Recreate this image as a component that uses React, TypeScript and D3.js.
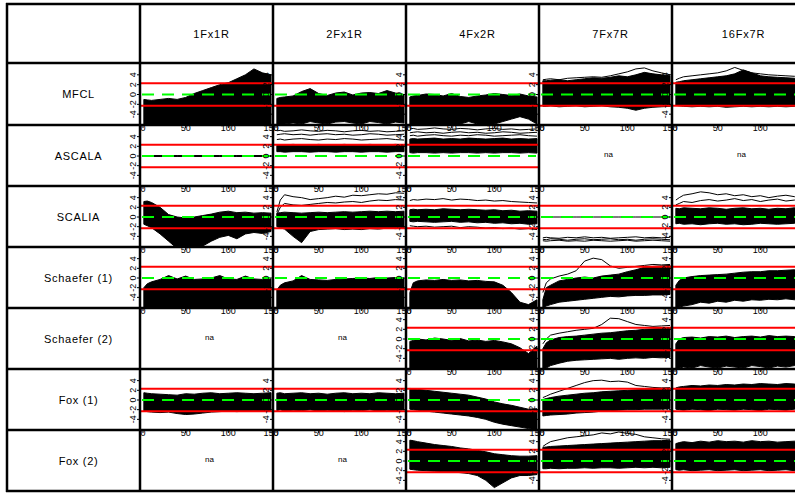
import React from "react";
import * as d3 from "d3";

// ---------- categories & ticks ----------
const MODELS = ["MFCL", "ASCALA", "SCALIA", "Schaefer (1)", "Schaefer (2)", "Fox (1)", "Fox (2)"];
const SCENARIOS = ["1Fx1R", "2Fx1R", "4Fx2R", "7Fx7R", "16Fx7R"];
const STEPS = [1, 5, 10, 20, 30, 40, 50, 60, 70, 80, 90, 100, 110, 120, 130, 140, 150];
const Y_TICKS = [-4, -2, 0, 2, 4];
const X_TICKS = [0, 50, 100, 150];
const REF_LIMIT = 2.3; // red reference lines at +/- log(10)
const REF_CENTER = 0; // green dashed line

// ---------- envelopes (upper / lower) of the trajectories, per model, per scenario (null = na) ----------
const MFCL_UPPER = [
  [-1.0, -1.1, -1.2, -1.0, -0.8, -1.0, -0.6, 0.2, 0.8, 1.4, 2.0, 2.4, 3.2, 4.0, 5.2, 4.4, 4.0],
  [-0.8, -0.6, -0.5, -0.3, 0.6, 1.2, 0.2, -0.2, 0.3, 0.5, -0.1, 0.3, 0.4, 0.2, 0.8, 0.3, 0.0],
  [-0.5, -0.3, -0.2, 0.1, 0.0, -0.3, 0.2, -0.4, -0.6, -0.3, -0.1, 0.2, 0.0, -0.2, 0.1, -0.3, -0.5],
  [2.8, 2.8, 2.9, 3.0, 2.8, 3.0, 3.2, 3.4, 3.3, 3.5, 3.8, 3.6, 4.0, 4.5, 4.2, 4.0, 3.8],
  [2.5, 2.6, 2.8, 3.0, 3.2, 3.4, 3.6, 3.8, 4.2, 5.0, 4.4, 3.8, 3.6, 3.5, 3.4, 3.3, 3.2],
];
const MFCL_LOWER = [
  [-7, -7, -7, -7, -7, -7, -7, -7, -7, -7, -7, -7, -6.5, -6, -6, -6, -6],
  [-7, -6.5, -6, -5.8, -6, -5.5, -5.8, -6, -5.6, -5.5, -5.8, -6, -5.5, -5.7, -6, -5.6, -5.8],
  [-7, -7, -7, -6.5, -6, -6.5, -7, -6, -5.5, -6, -6.5, -6, -5.5, -5, -4.5, -5, -6],
  [-2.4, -2.4, -2.3, -2.5, -2.4, -2.3, -2.5, -2.4, -2.3, -2.5, -2.6, -2.8, -3.2, -2.8, -2.6, -2.5, -2.4],
  [-2.2, -2.3, -2.4, -2.5, -2.4, -2.5, -2.4, -2.6, -2.5, -2.4, -2.5, -2.4, -2.5, -2.4, -2.5, -2.4, -2.5],
];
const MFCL_LINES = [
  [],
  [],
  [],
  [[3.0, 3.1, 3.2, 3.0, 3.3, 3.4, 3.5, 3.6, 3.5, 3.8, 4.2, 4.6, 5.2, 5.4, 4.8, 4.4, 4.0]],
  [[3.0, 3.3, 3.6, 3.8, 4.0, 4.2, 4.4, 4.8, 5.5, 4.9, 4.4, 4.2, 4.0, 3.9, 3.8, 3.7, 3.6]],
];

const ASCALA_UPPER = [
  [0.1, 0.1, 0.1, 0.1, 0.1, 0.1, 0.1, 0.1, 0.1, 0.1, 0.1, 0.1, 0.1, 0.1, 0.1, 0.1, 0.1],
  [2.2, 2.3, 2.3, 2.4, 2.3, 2.3, 2.4, 2.3, 2.3, 2.4, 2.3, 2.3, 2.4, 2.3, 2.3, 2.4, 2.3],
  [3.5, 3.6, 3.5, 3.6, 3.7, 3.5, 3.6, 3.5, 3.7, 3.6, 3.5, 3.6, 3.7, 3.5, 3.6, 3.5, 3.6],
  null,
  null,
];
const ASCALA_LOWER = [
  [-0.1, -0.1, -0.1, -0.1, -0.1, -0.1, -0.1, -0.1, -0.1, -0.1, -0.1, -0.1, -0.1, -0.1, -0.1, -0.1, -0.1],
  [0.9, 0.9, 0.8, 0.9, 0.9, 0.8, 0.9, 0.9, 0.8, 0.9, 0.9, 0.8, 0.9, 0.9, 0.8, 0.9, 0.9],
  [0.7, 0.6, 0.7, 0.7, 0.6, 0.7, 0.6, 0.7, 0.7, 0.6, 0.7, 0.6, 0.7, 0.7, 0.6, 0.7, 0.6],
  null,
  null,
];
const ASCALA_LINES = [
  [],
  [
    [5.2, 5.3, 5.1, 5.2, 5.4, 5.2, 5.1, 5.3, 5.2, 5.0, 5.2, 5.3, 5.1, 5.2, 5.0, 5.1, 5.2],
    [4.4, 4.5, 4.6, 4.4, 4.5, 4.3, 4.5, 4.6, 4.4, 4.5, 4.3, 4.4, 4.6, 4.5, 4.3, 4.4, 4.5],
    [3.4, 3.5, 3.3, 3.5, 3.6, 3.4, 3.3, 3.5, 3.4, 3.6, 3.5, 3.3, 3.4, 3.5, 3.6, 3.4, 3.3],
  ],
  [
    [5.6, 5.7, 5.5, 5.6, 5.8, 5.6, 5.5, 5.7, 5.6, 5.4, 5.6, 5.7, 5.5, 5.6, 5.4, 5.5, 5.6],
    [4.8, 4.9, 5.0, 4.8, 4.9, 4.7, 4.9, 5.0, 4.8, 4.9, 4.7, 4.8, 5.0, 4.9, 4.7, 4.8, 4.9],
    [4.2, 4.3, 4.1, 4.3, 4.4, 4.2, 4.1, 4.3, 4.2, 4.4, 4.3, 4.1, 4.2, 4.3, 4.4, 4.2, 4.1],
  ],
  [],
  [],
];

const SCALIA_UPPER = [
  [3.2, 3.3, 3.0, 2.0, 0.5, 0.0, -0.2, 0.0, 0.3, 0.6, 1.0, 1.2, 0.9, 1.0, 0.8, 0.9, 0.8],
  [0.8, 0.9, 1.0, 0.9, 0.8, 0.9, 1.0, 0.9, 1.0, 1.1, 1.0, 1.1, 1.2, 1.1, 1.2, 1.1, 1.2],
  [1.5, 1.6, 1.5, 1.6, 1.5, 1.7, 1.6, 1.5, 1.6, 1.5, 1.4, 1.5, 1.3, 1.4, 1.2, 1.3, 1.2],
  null,
  [1.8, 1.7, 1.9, 1.8, 1.7, 1.9, 1.8, 1.6, 1.8, 1.9, 1.7, 1.8, 1.6, 1.8, 1.7, 1.9, 1.8],
];
const SCALIA_LOWER = [
  [-1.5, -1.8, -2.2, -3.5, -5.0, -6.5, -6.5, -6.5, -6.0, -5.0, -4.2, -3.8, -4.5, -3.5, -3.2, -3.4, -3.0],
  [-2.0, -2.2, -2.5, -4.0, -5.3, -3.0, -2.6, -2.5, -2.4, -2.6, -2.5, -2.6, -2.4, -2.5, -2.3, -2.4, -2.3],
  [-0.9, -1.0, -0.9, -1.0, -1.1, -1.0, -0.9, -1.1, -1.0, -1.2, -1.1, -1.3, -1.2, -1.4, -1.3, -1.5, -1.4],
  null,
  [-1.4, -1.3, -1.5, -1.4, -1.6, -1.4, -1.3, -1.5, -1.4, -1.6, -1.5, -1.3, -1.4, -1.5, -1.4, -1.3, -1.5],
];
const SCALIA_LINES = [
  [],
  [
    [1.0, 3.5, 4.6, 4.2, 4.0, 3.6, 3.8, 4.0, 4.3, 4.1, 4.5, 4.4, 4.6, 4.8, 4.7, 5.0, 4.9],
    [0.5, 2.0, 2.8, 2.5, 2.4, 2.6, 2.8, 3.0, 2.9, 3.1, 3.2, 3.0, 3.3, 3.5, 3.4, 3.6, 3.5],
  ],
  [
    [3.4, 3.6, 3.5, 3.7, 3.6, 3.8, 3.5, 3.7, 3.6, 3.4, 3.5, 3.3, 3.4, 3.2, 3.1, 3.0, 2.9],
    [-1.8, -1.9, -2.0, -1.9, -2.1, -2.0, -1.9, -2.2, -2.0, -2.1, -2.3, -2.2, -2.4, -2.3, -2.5, -2.4, -2.6],
  ],
  [
    [0, 0, 0, 0, 0, 0, 0, 0, 0, 0, 0, 0, 0, 0, 0, 0, 0],
    [-4.3, -4.2, -4.3, -4.4, -4.2, -4.3, -4.1, -4.3, -4.2, -4.4, -4.3, -4.2, -4.1, -4.3, -4.2, -4.3, -4.2],
    [-4.6, -4.7, -4.5, -4.6, -4.8, -4.6, -4.5, -4.7, -4.6, -4.5, -4.7, -4.6, -4.8, -4.6, -4.5, -4.6, -4.7],
    [-4.9, -5.0, -4.9, -4.8, -5.0, -4.9, -5.0, -4.8, -4.9, -5.0, -4.9, -4.8, -5.0, -4.9, -4.8, -4.9, -5.0],
  ],
  [
    [3.5, 4.0, 4.5, 4.8, 5.2, 5.0, 4.6, 4.8, 4.4, 4.6, 4.2, 4.4, 4.0, 4.3, 4.5, 4.2, 4.4],
    [2.5, 2.8, 3.2, 3.0, 3.4, 3.6, 3.3, 3.5, 3.8, 3.4, 3.6, 3.2, 3.5, 3.7, 3.3, 3.5, 3.6],
  ],
];

const SCHAEFER1_UPPER = [
  [-2.0, -1.2, -0.8, -0.3, 0.5, -0.2, 0.4, -0.3, -0.2, 0.0, 0.5, -0.2, -0.3, 0.4, -0.2, -0.3, -0.2],
  [-2.5, -1.5, -1.0, -0.6, 0.5, -0.3, -0.4, -0.5, -0.3, -0.2, -0.1, 0.0, -0.1, 0.1, 0.0, 0.1, 0.0],
  [-3.0, -1.0, -0.6, -0.4, -0.5, -0.3, -0.5, -0.4, -0.6, -0.5, -0.7, -0.8, -1.5, -3.0, -5.0, -5.5, -4.5],
  [-4.5, -2.0, -1.5, -0.6, -0.3, 0.0, 0.2, 0.0, 0.4, 0.6, 0.8, 1.3, 1.7, 2.2, 2.4, 2.5, 2.6],
  [-1.5, -0.5, 0.0, 0.3, 0.5, 0.6, 0.7, 0.8, 1.0, 1.2, 1.3, 1.3, 1.5, 1.5, 1.6, 1.7, 1.7],
];
const SCHAEFER1_LOWER = [
  [-7, -7, -7, -7, -7, -7, -7, -7, -7, -7, -7, -7, -7, -7, -7, -7, -7],
  [-7, -7, -7, -7, -7, -7, -7, -7, -7, -7, -7, -7, -7, -7, -7, -7, -7],
  [-7, -7, -7, -7, -7, -7, -7, -7, -7, -7, -7, -7, -7, -7, -7, -7, -7],
  [-6.5, -5.8, -5.5, -5.0, -4.8, -4.6, -4.4, -4.2, -4.0, -3.8, -3.9, -3.7, -3.6, -3.6, -3.5, -3.5, -3.4],
  [-6.5, -6, -5.8, -5.5, -5.0, -5.2, -4.8, -5.0, -4.6, -4.8, -4.5, -4.6, -4.4, -4.5, -4.3, -4.5, -4.4],
];
const SCHAEFER1_LINES = [
  [],
  [],
  [],
  [[-3.0, -1.0, -0.2, 0.4, 0.8, 1.5, 3.5, 4.1, 3.8, 2.5, 2.0, 2.2, 2.4, 2.6, 2.8, 2.7, 2.8]],
  [],
];

const SCHAEFER2_UPPER = [
  null,
  null,
  [-0.5, -0.3, 0.0, -0.2, 0.2, 0.0, -0.3, 0.1, -0.4, -0.2, -0.5, -0.3, -0.6, -1.0, -1.8, -3.0, -1.5],
  [-2.0, -0.8, -0.2, 0.3, 0.5, 0.6, 0.8, 1.0, 1.2, 1.3, 1.5, 1.7, 1.8, 2.0, 2.1, 2.2, 2.3],
  [-1.0, 0.0, 0.3, 0.4, 0.2, 0.5, 0.4, 0.6, 0.3, 0.5, 0.6, 0.4, 0.7, 0.5, 0.6, 0.5, 0.6],
];
const SCHAEFER2_LOWER = [
  null,
  null,
  [-7, -7, -7, -7, -7, -7, -7, -7, -7, -7, -7, -7, -7, -7, -7, -7, -7],
  [-6.5, -6, -5.5, -5, -4.6, -4.4, -4.3, -4.2, -4.1, -4.0, -4.2, -4.0, -3.9, -4.0, -3.8, -3.9, -3.8],
  [-6.5, -6, -5.8, -6, -5.5, -5.8, -6, -5.6, -5.8, -6, -5.5, -5.7, -6, -5.6, -5.8, -5.5, -5.7],
];
const SCHAEFER2_LINES = [
  [],
  [],
  [],
  [[-1.0, 0.0, 0.8, 1.2, 1.5, 1.8, 2.0, 2.2, 3.0, 4.3, 4.2, 3.6, 3.0, 2.8, 2.6, 2.7, 2.8]],
  [],
];

const FOX1_UPPER = [
  [1.5, 1.4, 1.3, 1.2, 1.1, 1.0, 1.3, 1.2, 1.4, 1.5, 1.3, 1.4, 1.5, 1.4, 1.3, 1.4, 1.5],
  [1.4, 1.5, 1.3, 1.4, 1.5, 1.3, 1.4, 1.2, 1.4, 1.5, 1.3, 1.4, 1.3, 1.5, 1.4, 1.3, 1.4],
  [2.4, 2.3, 2.2, 2.0, 1.8, 1.6, 1.4, 1.2, 1.0, 0.6, 0.2, -0.4, -0.8, -1.1, -1.5, -1.9, -1.8],
  [0.1, 0.3, 0.5, 0.8, 1.0, 1.2, 1.4, 1.5, 1.7, 1.8, 1.9, 2.0, 2.1, 2.2, 2.3, 2.4, 2.5],
  [2.5, 2.7, 2.8, 3.0, 2.9, 3.1, 3.0, 3.2, 3.1, 3.3, 3.2, 3.4, 3.3, 3.2, 3.4, 3.3, 3.4],
];
const FOX1_LOWER = [
  [-2.3, -2.4, -2.5, -2.6, -2.5, -2.8, -3.0, -2.9, -2.7, -2.5, -2.4, -2.3, -2.4, -2.3, -2.2, -2.3, -2.2],
  [-2.2, -2.0, -2.3, -2.1, -2.2, -2.0, -2.3, -2.1, -2.2, -2.4, -2.1, -2.2, -2.0, -2.3, -2.1, -2.2, -2.0],
  [-1.9, -2.0, -2.1, -2.3, -2.5, -2.7, -2.9, -3.1, -3.3, -3.6, -4.0, -4.6, -5.0, -5.3, -5.6, -5.9, -6.2],
  [-3.3, -3.2, -3.1, -3.0, -2.9, -2.7, -2.6, -2.5, -2.3, -2.2, -2.1, -2.0, -2.0, -1.9, -1.9, -1.9, -1.8],
  [-1.9, -2.0, -2.1, -1.9, -2.0, -2.2, -1.9, -2.0, -2.1, -1.9, -2.0, -2.2, -1.9, -2.0, -2.1, -1.9, -2.0],
];
const FOX1_LINES = [
  [],
  [],
  [],
  [[0.5, 0.8, 1.2, 1.8, 2.4, 3.0, 3.6, 4.0, 4.1, 3.8, 3.9, 3.7, 3.0, 2.8, 2.6, 2.5, 2.5]],
  [],
];

const FOX2_UPPER = [
  null,
  null,
  [4.3, 4.2, 4.0, 3.7, 3.4, 3.2, 3.0, 2.7, 2.5, 2.2, 1.9, 1.5, 1.3, 1.1, 1.0, 1.0, 1.1],
  [2.8, 2.9, 3.0, 3.1, 3.2, 3.3, 3.4, 3.5, 3.6, 3.7, 3.8, 3.9, 4.0, 4.1, 4.2, 4.2, 4.3],
  [3.6, 3.8, 4.0, 3.8, 4.1, 3.9, 4.2, 4.0, 4.1, 3.9, 4.2, 4.0, 4.1, 3.9, 4.0, 4.1, 4.0],
];
const FOX2_LOWER = [
  null,
  null,
  [-1.7, -1.8, -1.9, -2.0, -2.1, -2.2, -2.3, -2.4, -2.6, -3.0, -4.0, -5.5, -4.5, -3.5, -3.0, -3.0, -2.8],
  [-1.6, -1.6, -1.5, -1.6, -1.5, -1.5, -1.4, -1.5, -1.4, -1.4, -1.5, -1.4, -1.3, -1.4, -1.3, -1.4, -1.3],
  [-1.8, -1.9, -1.8, -2.0, -1.9, -1.8, -2.0, -1.9, -1.8, -2.0, -1.9, -1.8, -2.0, -1.9, -1.8, -2.0, -1.9],
];
const FOX2_LINES = [
  [],
  [],
  [],
  [[3.0, 3.5, 4.0, 4.4, 4.8, 5.0, 5.2, 5.4, 5.8, 5.6, 6.0, 5.7, 5.5, 5.0, 4.8, 4.6, 4.5]],
  [],
];

// which panels exist (false = "na")
const AVAILABLE = [
  [true, true, true, true, true],
  [true, true, true, false, false],
  [true, true, true, true, true],
  [true, true, true, true, true],
  [false, false, true, true, true],
  [true, true, true, true, true],
  [false, false, true, true, true],
];

const UPPER = [MFCL_UPPER, ASCALA_UPPER, SCALIA_UPPER, SCHAEFER1_UPPER, SCHAEFER2_UPPER, FOX1_UPPER, FOX2_UPPER];
const LOWER = [MFCL_LOWER, ASCALA_LOWER, SCALIA_LOWER, SCHAEFER1_LOWER, SCHAEFER2_LOWER, FOX1_LOWER, FOX2_LOWER];
const LINES = [MFCL_LINES, ASCALA_LINES, SCALIA_LINES, SCHAEFER1_LINES, SCHAEFER2_LINES, FOX1_LINES, FOX2_LINES];

// ---------- layout ----------
const W = 795;
const H = 495;
const COL_EDGES = [7, 140, 273, 406, 539, 672, 805];
const ROW_EDGES = [4, 63, 125, 186, 247, 308, 369, 430, 491];
const FONT = "'Liberation Sans', Arial, Helvetica, sans-serif";

export default function App() {
  const panels: React.ReactNode[] = [];
  const axes: React.ReactNode[] = [];
  const texts: React.ReactNode[] = [];
  const defs: React.ReactNode[] = [];

  MODELS.forEach((model, r) => {
    const top = ROW_EDGES[r + 1];
    const bottom = ROW_EDGES[r + 2];
    texts.push(
      <text key={`rl${r}`} x={(COL_EDGES[0] + COL_EDGES[1]) / 2 + 5} y={(top + bottom) / 2 + 4}
        textAnchor="middle" fontSize={11} letterSpacing={0.7} fontFamily={FONT} fill="#000">{model}</text>
    );
    SCENARIOS.forEach((sc, c) => {
      const left = COL_EDGES[c + 1];
      const right = COL_EDGES[c + 2];
      if (!AVAILABLE[r][c]) {
        texts.push(
          <text key={`na${r}-${c}`} x={(left + right) / 2 + 3} y={(top + bottom) / 2 + 1}
            textAnchor="middle" fontSize={8} fontFamily={FONT} fill="#000">na</text>
        );
        return;
      }
      const x = d3.scaleLinear().domain([0, 150]).range([left + 3, right - 2]);
      const y = d3.scaleLinear().domain([-6.2, 6.2]).range([bottom, top + 1]);
      const clipId = `clip${r}-${c}`;
      defs.push(
        <clipPath id={clipId} key={clipId}>
          <rect x={left + 1} y={top + 1} width={right - left - 2} height={bottom - top - 1} />
        </clipPath>
      );
      const hi = UPPER[r][c];
      const lo = LOWER[r][c];
      const area = d3.area<number>()
        .x((_, i) => x(STEPS[i]))
        .y0((_, i) => y(lo![i]))
        .y1((d) => y(d));
      const line = d3.line<number>().x((_, i) => x(STEPS[i])).y((d) => y(d));
      panels.push(
        <g key={`p${r}-${c}`} clipPath={`url(#${clipId})`}>
          {hi && lo ? <path d={area(hi) || ""} fill="#000" stroke="#000" strokeWidth={1} /> : null}
          {LINES[r][c].map((ln, k) => (
            <path key={k} d={line(ln) || ""} fill="none" stroke="#000" strokeWidth={1} />
          ))}
          {[REF_LIMIT, -REF_LIMIT].map((v) => (
            <line key={v} x1={left} x2={right} y1={y(v)} y2={y(v)} stroke="#ff0000" strokeWidth={2} />
          ))}
          <line x1={x(0) - 1} x2={right - 3} y1={y(REF_CENTER)} y2={y(REF_CENTER)} stroke="#00ff00"
            strokeWidth={2} strokeDasharray="12 8" />
        </g>
      );
      // y axis (left, labels rotated)
      axes.push(
        <g key={`ya${r}-${c}`}>
          {Y_TICKS.map((t) => (
            <g key={t}>
              <line x1={left - 3} x2={left} y1={y(t)} y2={y(t)} stroke="#000" strokeWidth={1} />
              <text transform={`translate(${left - 4.5},${y(t)}) rotate(-90)`} textAnchor="middle"
                fontSize={9} fontFamily={FONT} fill="#000">{t}</text>
            </g>
          ))}
        </g>
      );
      // x axis (below, overlapping next row) -- not for last row
      if (r < MODELS.length - 1) {
        axes.push(
          <g key={`xa${r}-${c}`}>
            {X_TICKS.map((t) => (
              <g key={t}>
                <line x1={x(t)} x2={x(t)} y1={bottom} y2={bottom + 3} stroke="#000" strokeWidth={1} />
                <text x={x(t)} y={bottom + 6} textAnchor="middle" fontSize={9} fontFamily={FONT} fill="#000">{t}</text>
              </g>
            ))}
          </g>
        );
      }
    });
  });

  SCENARIOS.forEach((sc, c) => {
    texts.push(
      <text key={`h${c}`} x={(COL_EDGES[c + 1] + COL_EDGES[c + 2]) / 2 + 5} y={(ROW_EDGES[0] + ROW_EDGES[1]) / 2 + 4}
        textAnchor="middle" fontSize={11} letterSpacing={0.8} fontFamily={FONT} fill="#000">{sc}</text>
    );
  });

  const grid: React.ReactNode[] = [];
  ROW_EDGES.forEach((yy, i) => {
    grid.push(<line key={`gh${i}`} x1={COL_EDGES[0] - 1} x2={W} y1={yy} y2={yy} stroke="#000" strokeWidth={2.5} />);
  });
  COL_EDGES.forEach((xx, i) => {
    grid.push(<line key={`gv${i}`} x1={xx} x2={xx} y1={ROW_EDGES[0] - 1} y2={ROW_EDGES[ROW_EDGES.length - 1] + 1} stroke="#000" strokeWidth={2.5} />);
  });

  return (
    <svg width={W} height={H} viewBox={`0 0 ${W} ${H}`}
      style={{ position: "absolute", left: 0, top: 0, display: "block", background: "#fff" }}>
      <rect x={0} y={0} width={W} height={H} fill="#fff" />
      <defs>{defs}</defs>
      {panels}
      {axes}
      {grid}
      {texts}
    </svg>
  );
}
